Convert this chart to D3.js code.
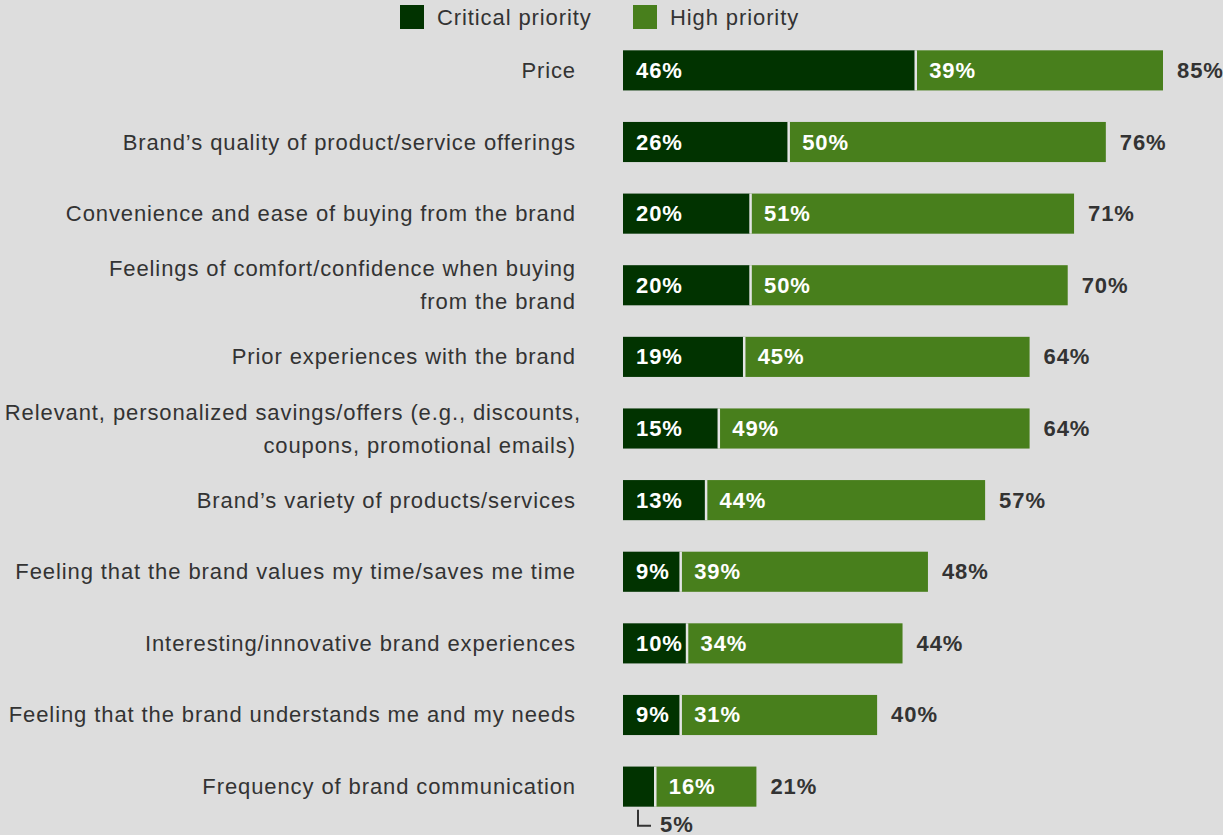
<!DOCTYPE html>
<html>
<head>
<meta charset="utf-8">
<script src="https://cdn.jsdelivr.net/npm/d3@7"></script>
<style>
  html, body { margin: 0; padding: 0; background: #dddddd; }
  svg { display: block; font-family: "Liberation Sans", Arial, Helvetica, sans-serif; }
</style>
</head>
<body>
<svg id="chart" width="1223" height="835"></svg>
<script>
// Survey factors (line breaks marked with "\n")
const categories = [
  "Price",
  "Brand’s quality of product/service offerings",
  "Convenience and ease of buying from the brand",
  "Feelings of comfort/confidence when buying\nfrom the brand",
  "Prior experiences with the brand",
  "Relevant, personalized savings/offers (e.g., discounts,\ncoupons, promotional emails)",
  "Brand’s variety of products/services",
  "Feeling that the brand values my time/saves me time",
  "Interesting/innovative brand experiences",
  "Feeling that the brand understands me and my needs",
  "Frequency of brand communication"
];
const critical = [46, 26, 20, 20, 19, 15, 13, 9, 10, 9, 5];
const high     = [39, 50, 51, 50, 45, 49, 44, 39, 34, 31, 16];
const totals   = [85, 76, 71, 70, 64, 64, 57, 48, 44, 40, 21];
const seriesNames = ["Critical priority", "High priority"];
const colors = ["#013300", "#487f1c"];

const svg = d3.select("#chart");
const textColor = "#333333";
const fs = 22;
const ls = 0.9;

const x = d3.scaleLinear().domain([0, 85]).range([623, 1163]);
const y = d3.scaleBand().domain(d3.range(categories.length)).range([36, 821]).paddingInner(0.44).paddingOuter(0.2);

const rows = svg.append("g").selectAll("g.row")
  .data(categories.map((c, i) => ({ c, i, crit: critical[i], high: high[i], total: totals[i] })))
  .join("g").attr("class", "row");

const bh = y.bandwidth();

function styleText(sel, bold, fill) {
  return sel.attr("font-size", fs)
    .attr("letter-spacing", ls)
    .attr("font-weight", bold ? "bold" : "normal")
    .attr("fill", fill);
}

// Critical segment
rows.append("rect")
  .attr("x", d => x(0))
  .attr("y", d => y(d.i))
  .attr("width", d => x(d.crit) - x(0))
  .attr("height", bh)
  .attr("fill", colors[0]);

// High segment
rows.append("rect")
  .attr("x", d => x(d.crit))
  .attr("y", d => y(d.i))
  .attr("width", d => x(d.crit + d.high) - x(d.crit))
  .attr("height", bh)
  .attr("fill", colors[1]);

// Thin divider between the two segments
rows.append("line")
  .attr("x1", d => x(d.crit) + 0.5).attr("x2", d => x(d.crit) + 0.5)
  .attr("y1", d => y(d.i)).attr("y2", d => y(d.i) + bh)
  .attr("stroke", "#e4e4e4").attr("stroke-width", 2.5);

// Category labels, right-aligned; a trailing comma hangs past the edge
rows.each(function(d) {
  const lines = d.c.split("\n");
  const t = styleText(d3.select(this).append("text"), false, textColor)
    .attr("text-anchor", "end");
  const cy = y(d.i) + bh / 2;
  const lh = 33;
  lines.forEach((ln, k) => {
    t.append("tspan")
      .attr("x", ln.endsWith(",") ? 581 : 576)
      .attr("y", cy + 7.5 + (k - (lines.length - 1) / 2) * lh)
      .text(ln);
  });
});

// Segment value labels (white, inside)
styleText(rows.filter(d => d.crit >= 8).append("text"), true, "#ffffff")
  .attr("x", d => x(0) + 13)
  .attr("y", d => y(d.i) + bh / 2 + 7.5)
  .text(d => d.crit + "%");

styleText(rows.append("text"), true, "#ffffff")
  .attr("x", d => x(d.crit) + 14)
  .attr("y", d => y(d.i) + bh / 2 + 7.5)
  .text(d => d.high + "%");

// Totals
styleText(rows.append("text"), true, textColor)
  .attr("x", d => x(d.crit + d.high) + 14)
  .attr("y", d => y(d.i) + bh / 2 + 7.5)
  .text(d => d.total + "%");

// Callout for a segment too narrow for its label
rows.filter(d => d.crit < 8).each(function(d) {
  const g = d3.select(this);
  const bx = x(0) + 15;
  const by = y(d.i) + bh;
  g.append("path")
    .attr("d", `M${bx},${by + 3} V${by + 19} H${bx + 13}`)
    .attr("fill", "none").attr("stroke", textColor).attr("stroke-width", 2);
  styleText(g.append("text"), true, textColor)
    .attr("x", bx + 22).attr("y", by + 25)
    .text(d.crit + "%");
});

// Legend
const legend = svg.append("g");
const legendX = [400, 633];
seriesNames.forEach((name, k) => {
  legend.append("rect")
    .attr("x", legendX[k]).attr("y", 5).attr("width", 24).attr("height", 24)
    .attr("fill", colors[k]);
  styleText(legend.append("text"), false, textColor)
    .attr("x", legendX[k] + 37).attr("y", 24.5)
    .text(name);
});
</script>
</body>
</html>
